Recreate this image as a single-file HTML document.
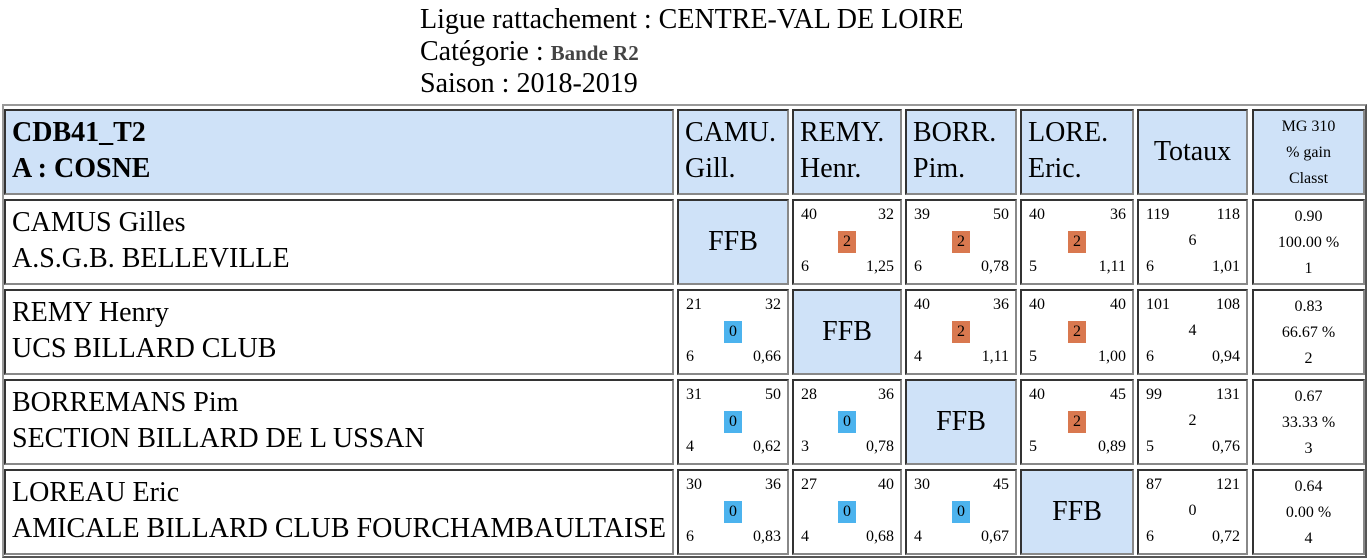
<!DOCTYPE html>
<html><head><meta charset="utf-8"><style>
body{margin:0;width:1367px;height:560px;background:#fff;font-family:"Liberation Serif",serif;color:#000;position:relative;overflow:hidden}
.t{position:absolute;left:420px;font-size:28px;line-height:32px;white-space:nowrap}
.c{position:absolute;box-sizing:border-box;border:2px solid;border-color:#333 #888 #888 #333}
.h{background:#cfe2f8}
.big{font-size:28px;line-height:36px;padding:4px 0 0 6px;white-space:nowrap}
.s{position:absolute;font-size:16px}
.b{position:absolute;width:18px;height:22px;font-size:16px;line-height:22px;text-align:center}
</style></head><body>
<div class="t" style="top:4px">Ligue rattachement : CENTRE-VAL DE LOIRE</div>
<div class="t" style="top:36px">Catégorie : <b style="font-size:21px;color:#444">Bande R2</b></div>
<div class="t" style="top:68px">Saison : 2018-2019</div>
<div style="position:absolute;left:2px;top:104px;width:1365px;height:454px;box-sizing:border-box;border:2px solid;border-color:#999 #555 #555 #999"></div>
<div id="g"></div>
<script>
const players=["CAMUS Gilles","REMY Henry","BORREMANS Pim","LOREAU Eric"];
const clubs=["A.S.G.B. BELLEVILLE","UCS BILLARD CLUB","SECTION BILLARD DE L USSAN","AMICALE BILLARD CLUB FOURCHAMBAULTAISE"];
const heads=[["CAMU.","Gill."],["REMY.","Henr."],["BORR.","Pim."],["LORE.","Eric."]];
// [points, distance, score, innings, average]
const matches=[
[null,[40,32,2,6,"1,25"],[39,50,2,6,"0,78"],[40,36,2,5,"1,11"]],
[[21,32,0,6,"0,66"],null,[40,36,2,4,"1,11"],[40,40,2,5,"1,00"]],
[[31,50,0,4,"0,62"],[28,36,0,3,"0,78"],null,[40,45,2,5,"0,89"]],
[[30,36,0,6,"0,83"],[27,40,0,4,"0,68"],[30,45,0,4,"0,67"],null]];
const totals=[[119,118,6,6,"1,01"],[101,108,4,6,"0,94"],[99,131,2,5,"0,76"],[87,121,0,6,"0,72"]];
const summary=[["0.90","100.00 %","1"],["0.83","66.67 %","2"],["0.67","33.33 %","3"],["0.64","0.00 %","4"]];
const cx=[4,677,792,905,1020,1137,1252], cw=[670,112,110,112,114,111,113];
const ry=[109,199,289,379,469], rh=86;
const g=document.getElementById('g');
function cell(i,r,cls,name){const d=document.createElement('div');d.className='c '+cls;
d.style.left=cx[i]+'px';d.style.top=ry[r]+'px';d.style.width=cw[i]+'px';d.style.height=rh+'px';


g.appendChild(d);return d;}
function sp(p,txt,css){const s=document.createElement('div');s.className='s';s.textContent=txt;s.style.cssText+=css;p.appendChild(s);return s;}
let d=cell(0,0,'h big','team-header');d.innerHTML='<b>CDB41_T2<br>A : COSNE</b>';
heads.forEach((h,i)=>{const c=cell(i+1,0,'h big','player-col-header');c.innerHTML=h[0]+'<br>'+h[1];});
d=cell(5,0,'h','totals-header');d.style.cssText+='font-size:28px;display:flex;align-items:center;justify-content:center';d.textContent='Totaux';
d=cell(6,0,'h','ranking-header');d.style.cssText+='font-size:16px;line-height:26px;text-align:center;padding-top:3px';d.innerHTML='MG 310<br>% gain<br>Classt';
function stat(c,m,badge,w){
sp(c,m[0],'left:7px;top:5px');sp(c,m[1],'right:6px;top:5px');
sp(c,m[3],'left:7px;top:57px');sp(c,m[4],'right:6px;top:57px');
if(badge){const b=document.createElement('div');b.className='b';b.textContent=m[2];
b.style.left=((w-4)/2-9)+'px';b.style.top='30px';
b.style.background=m[2]>0?'#d9784f':'#4cb3ee';


c.appendChild(b);}
else sp(c,m[2],'left:0;right:0;text-align:center;top:31px');}
players.forEach((p,r)=>{
const n=cell(0,r+1,'big','player-name-cell');n.innerHTML=p+'<br>'+clubs[r];
matches[r].forEach((m,j)=>{
if(!m){const f=cell(j+1,r+1,'h','self-match-cell');f.style.cssText+='font-size:28px;display:flex;align-items:center;justify-content:center';f.textContent='FFB';return;}
const c=cell(j+1,r+1,'','match-result-cell');stat(c,m,true,cw[j+1]);});
const t=cell(5,r+1,'','totals-cell');stat(t,totals[r],false,cw[5]);
const s=cell(6,r+1,'','summary-cell');s.style.cssText+='font-size:16px;line-height:26px;text-align:center;padding-top:3px';
s.innerHTML=summary[r].join('<br>');});
</script>
</body></html>
